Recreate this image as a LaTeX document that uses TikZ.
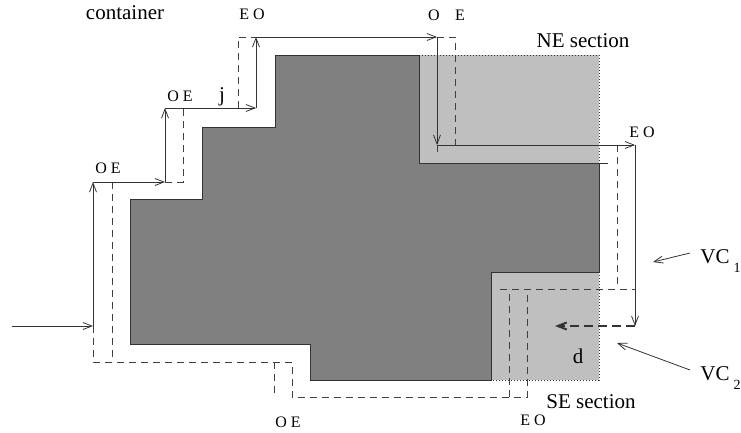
\documentclass[tikz,border=0pt]{standalone}
\usepackage{fontspec}
\setmainfont{Liberation Serif}
\usetikzlibrary{arrows.meta}

\begin{document}
\begin{tikzpicture}[x=1pt, y=-1pt, line width=0.8pt,
    route/.style = {draw=black!80, -{Straight Barb[length=9pt,width=7pt]}},
    alt/.style = {draw=black!75, dash pattern=on 7pt off 5pt},
    edge/.style = {draw=black!80, dotted, line width=1pt},
    lbl/.style = {font=\fontsize{21}{24}\selectfont, inner sep=0pt},
    oe/.style = {font=\fontsize{16}{18}\selectfont, inner sep=0pt}]
    \useasboundingbox (0,0) rectangle (741,432);

    % sections and obstacle
    \fill[black!25] (419,55) rectangle (599,163);
    \fill[black!25] (491,272) rectangle (599,380);
    \draw[black!80, fill=black!50] (275,55) -- (419,55) -- (419,163) -- (599,163) -- (599,272)
      -- (491,272) -- (491,380) -- (310,380) -- (310,344) -- (130,344) -- (130,199)
      -- (202,199) -- (202,127) -- (275,127) -- cycle;
    \draw[black!80] (599,163) -- (608,163);
    \draw[edge] (419,55) -- (599,55) -- (599,163);
    \draw[edge] (599,272) -- (599,380) -- (491,380);

    % corners of the solid route
    \coordinate (s0) at (12,326);
    \coordinate (s1) at (93,326);
    \coordinate (s2) at (93,182);
    \coordinate (s3) at (165,182);
    \coordinate (s4) at (165,108);
    \coordinate (s5) at (256,108);
    \coordinate (s6) at (256,37);
    \coordinate (s7) at (437,37);
    \coordinate (s8) at (437,145);
    \coordinate (s9) at (635,145);
    \coordinate (s10) at (635,326);
    \coordinate (s11) at (555,326);

    % dashed route
    \draw[alt] (s1) -- (93,362) -- (292,362) -- (292,397) -- (527,397) -- (527,289);
    \draw[alt] (112,182) -- (112,362);
    \draw[alt] (274,362) -- (274,397);
    \draw[alt] (509,397) -- (509,289);
    \draw[alt] (500,289) -- (635,289);
    \draw[alt] (s3) -- (183,182) -- (183,108);
    \draw[alt] (238,108) -- (238,37) -- (s6);
    \draw[alt] (s7) -- (455,37) -- (455,145);
    \draw[alt] (s8) -- (437,155);
    \draw[alt] (617,145) -- (617,289);

    % solid route
    \foreach \a/\b in {s0/s1, s1/s2, s2/s3, s3/s4, s4/s5, s5/s6, s6/s7, s7/s8, s8/s9, s9/s10}
      \draw[route] (\a) -- (\b);
    \draw[route, line width=2pt, dash pattern=on 9pt off 5pt] (s10) -- (s11);

    % labels
    \node[lbl, anchor=base] (cont) at (125,19) {container};
    \node[oe, anchor=base] (eo1) at (252,19) {E O};
    \node[oe, anchor=base] (oe1) at (180,101) {O E};
    \node[lbl, anchor=base] (jj) at (222,101) {j};
    \node[oe, anchor=base] (oe2) at (108,173) {O E};
    \node[oe, anchor=base] (o3) at (434,20) {O};
    \node[oe, anchor=base] (e3) at (460,20) {E};
    \node[lbl, anchor=base] (ne) at (583,47) {NE section};
    \node[oe, anchor=base] (eo2) at (642,137) {E O};
    \node[lbl, anchor=base] (dd) at (578,363) {d};
    \node[lbl, anchor=base] (se) at (591,408) {SE section};
    \node[oe, anchor=base] (oe4) at (288,427) {O E};
    \node[oe, anchor=base] (eo4) at (533,425) {E O};
    \node[lbl, anchor=base west] (vc1) at (700,263) {VC\hspace{4pt}\raisebox{-9pt}{\fontsize{14}{16}\selectfont 1}};
    \node[lbl, anchor=base west] (vc2) at (700,380) {VC\hspace{4pt}\raisebox{-9pt}{\fontsize{14}{16}\selectfont 2}};

    \coordinate (p1) at (653,262);
    \coordinate (p2) at (617,343);
    \draw[route] (690,253) -- (p1);
    \draw[route] (690,370) -- (p2);
\end{tikzpicture}
\end{document}
